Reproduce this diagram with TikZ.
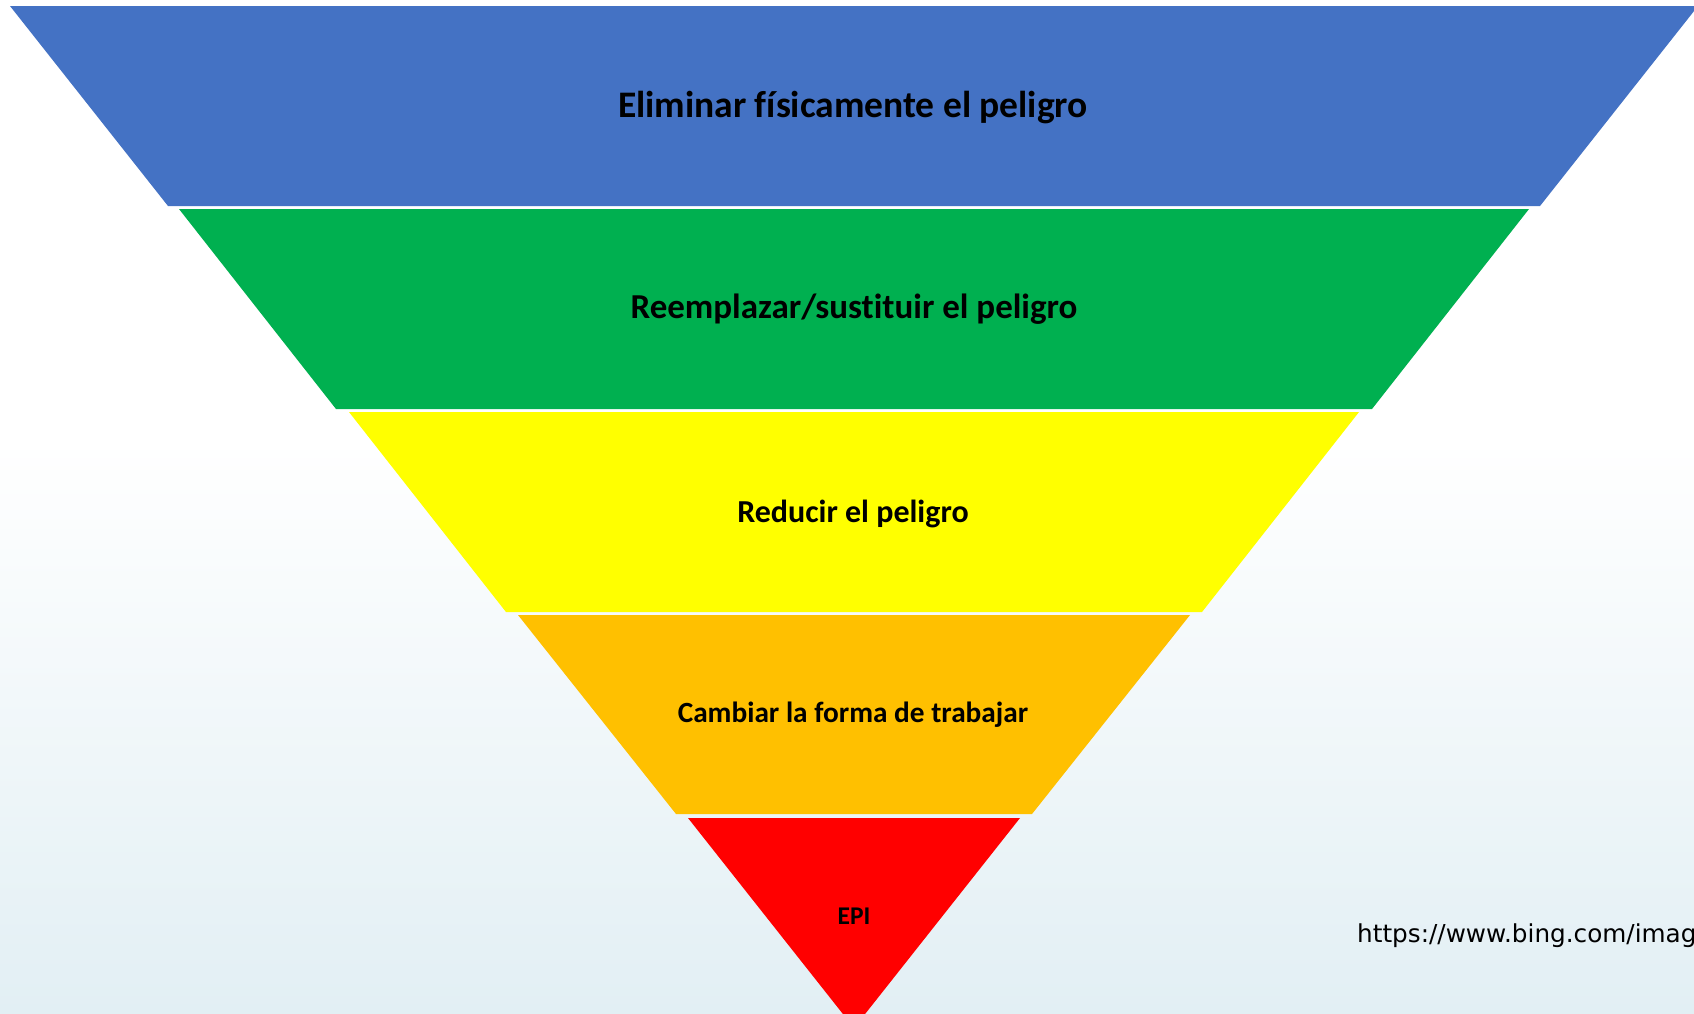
\documentclass[tikz,border=0pt]{standalone}
\usepackage{fontspec}
\setmainfont{Carlito}[Ligatures=NoCommon]
\newfontfamily\urlfont{DejaVu Sans}
\usepackage{tikz}
\definecolor{lvblue}{RGB}{68,114,196}
\definecolor{lvgreen}{RGB}{0,176,80}
\definecolor{lvyellow}{RGB}{255,255,0}
\definecolor{lvorange}{RGB}{255,192,0}
\definecolor{lvred}{RGB}{255,0,0}
\definecolor{bgblue}{RGB}{226,239,244}
\tikzset{x=1pt,y=-1pt}
\tikzset{
    lbl/.style={anchor=base,inner sep=0pt,text=black,
        font=\bfseries\fontsize{#1}{#1}\selectfont},
    src/.style={anchor=base west,inner sep=0pt,text=black,
        font=\urlfont\fontsize{24.7}{26}\selectfont}
}

\begin{document}
\begin{tikzpicture}
    \useasboundingbox (0,0) rectangle (1694,1013);
    \clip (0,0) rectangle (1694,1013);
    \fill[white] (0,0) rectangle (1694,440);
    \shade[top color=white,bottom color=bgblue] (0,440) rectangle (1694,1013);
    % niveles
    \fill[lvblue]   (10,6)    -- (1698,6)   -- (1540,206) -- (168,206) -- cycle;
    \fill[lvgreen]  (179,209) -- (1529,209) -- (1372,409) -- (336,409) -- cycle;
    \fill[lvyellow] (349,412) -- (1359,412) -- (1202,612) -- (506,612) -- cycle;
    \fill[lvorange] (518,615) -- (1190,615) -- (1032,814) -- (676,814) -- cycle;
    \fill[lvred]    (688,818) -- (1020,818) -- (854,1028) -- cycle;
    \node[lbl=37.5] (elim) at (853,117) {Eliminar físicamente el peligro};
    \node[lbl=35]   (sust) at (854,318) {Reemplazar/sustituir el peligro};
    \node[lbl=32]   (redu) at (853,522) {Reducir el peligro};
    \node[lbl=29.3] (camb) at (853,722) {Cambiar la forma de trabajar};
    \node[lbl=25.5] (epi)  at (854,924) {EPI};
    \node[src] (url) at (1357,942) {https://www.bing.com/images};
\end{tikzpicture}
\end{document}
